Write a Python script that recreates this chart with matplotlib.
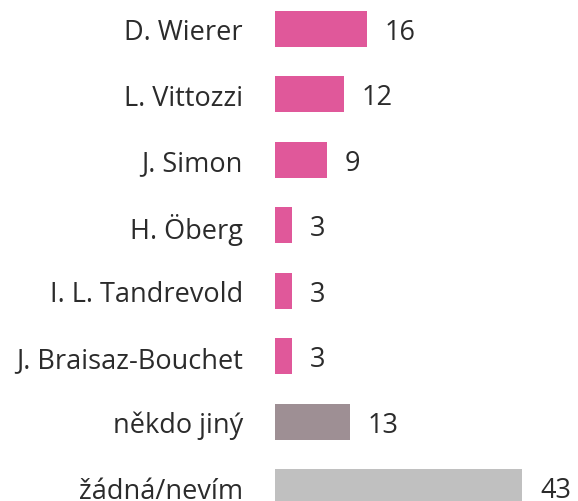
import matplotlib
matplotlib.use("Agg")
import matplotlib.pyplot as plt

categories = ["D. Wierer", "L. Vittozzi", "J. Simon", "H. Öberg", "I. L. Tandrevold",
              "J. Braisaz-Bouchet", "někdo jiný", "žádná/nevím"]
values = [16, 12, 9, 3, 3, 3, 13, 43]
colors = ["#E0589A"] * 6 + ["#9E8F94", "#C0C0C0"]

plt.rcParams['font.family'] = ['Open Sans', 'DejaVu Sans']

fig = plt.figure(figsize=(5.78, 5.02), dpi=100)
ax = fig.add_axes([275 / 578, 0, 1 - 275 / 578, 1])
ypos = list(range(len(categories)))
ax.barh(ypos, values, height=0.55, color=colors)
ax.set_xlim(0, 303 / 5.75)
ax.set_ylim(7 + 14 / 65.43, -30 / 65.43)
for y, v in zip(ypos, values):
    ax.annotate(str(v), (v, y), xytext=(18, -3), textcoords='offset pixels',
                va='center', ha='left', fontsize=19.5, color='#2b2b2b')
ax.set_yticks(ypos)
ax.set_yticklabels(categories, fontsize=19.5, color='#2b2b2b')
ax.tick_params(axis='y', length=0, pad=23)
ax.set_xticks([])
for s in ax.spines.values():
    s.set_visible(False)
fig.savefig("out.png", dpi=100)
